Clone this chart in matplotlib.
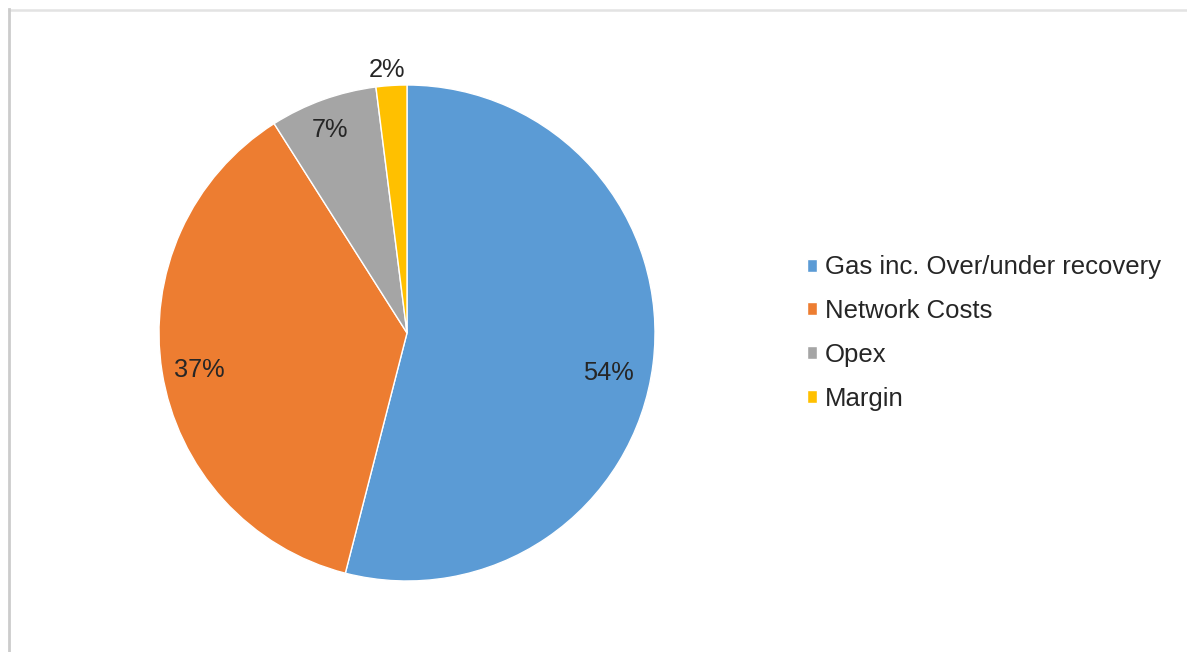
import numpy as np
import matplotlib
matplotlib.use("Agg")
import matplotlib.pyplot as plt
from matplotlib.lines import Line2D

labels = ["Gas inc. Over/under recovery", "Network Costs", "Opex", "Margin"]
values = [54, 37, 7, 2]
colors = ["#5B9BD5", "#ED7D31", "#A5A5A5", "#FFC000"]

plt.rcParams["font.family"] = ["Liberation Sans", "DejaVu Sans"]

fig = plt.figure(figsize=(11.87, 6.52), dpi=100)

# faint frame shadow along top and left
fig.add_artist(Line2D([9 / 1187, 1], [1 - 9.5 / 652, 1 - 9.5 / 652], color="#e3e3e3", lw=1.8, transform=fig.transFigure))
fig.add_artist(Line2D([9.5 / 1187, 9.5 / 1187], [0, 1 - 9 / 652], color="#cccccc", lw=2, transform=fig.transFigure))

# pie axes: centre (407, 333), radius ~248 px
r = 248
ax = fig.add_axes([(407 - r) / 1187, 1 - (333 + r) / 652, 2 * r / 1187, 2 * r / 652])
wedges, _ = ax.pie(values, colors=colors, startangle=90, counterclock=False,
                   wedgeprops=dict(edgecolor="white", linewidth=1))
ax.set_xlim(-1, 1)
ax.set_ylim(-1, 1)
ax.set_aspect("equal")

# label placement (distance as fraction of radius, small angle nudge)
dist = [0.83, 0.85, 0.875, 1.065]
nudge = [-4, 1, 1, 0.7]
for w, v, d, n in zip(wedges, values, dist, nudge):
    ang = np.deg2rad((w.theta1 + w.theta2) / 2 + n)
    ax.text(d * np.cos(ang), d * np.sin(ang), f"{v}%", ha="center", va="center",
            fontsize=18.3, color="#262626", clip_on=False)

leg = fig.legend(wedges, labels, loc="center left", bbox_to_anchor=(784 / 1187, 1 - 333 / 652),
                 frameon=False, fontsize=18.5, handlelength=0.4, handleheight=0.4,
                 handletextpad=0.3, labelspacing=0.77)
for t in leg.get_texts():
    t.set_color("#262626")

fig.savefig("out.png", dpi=100)
